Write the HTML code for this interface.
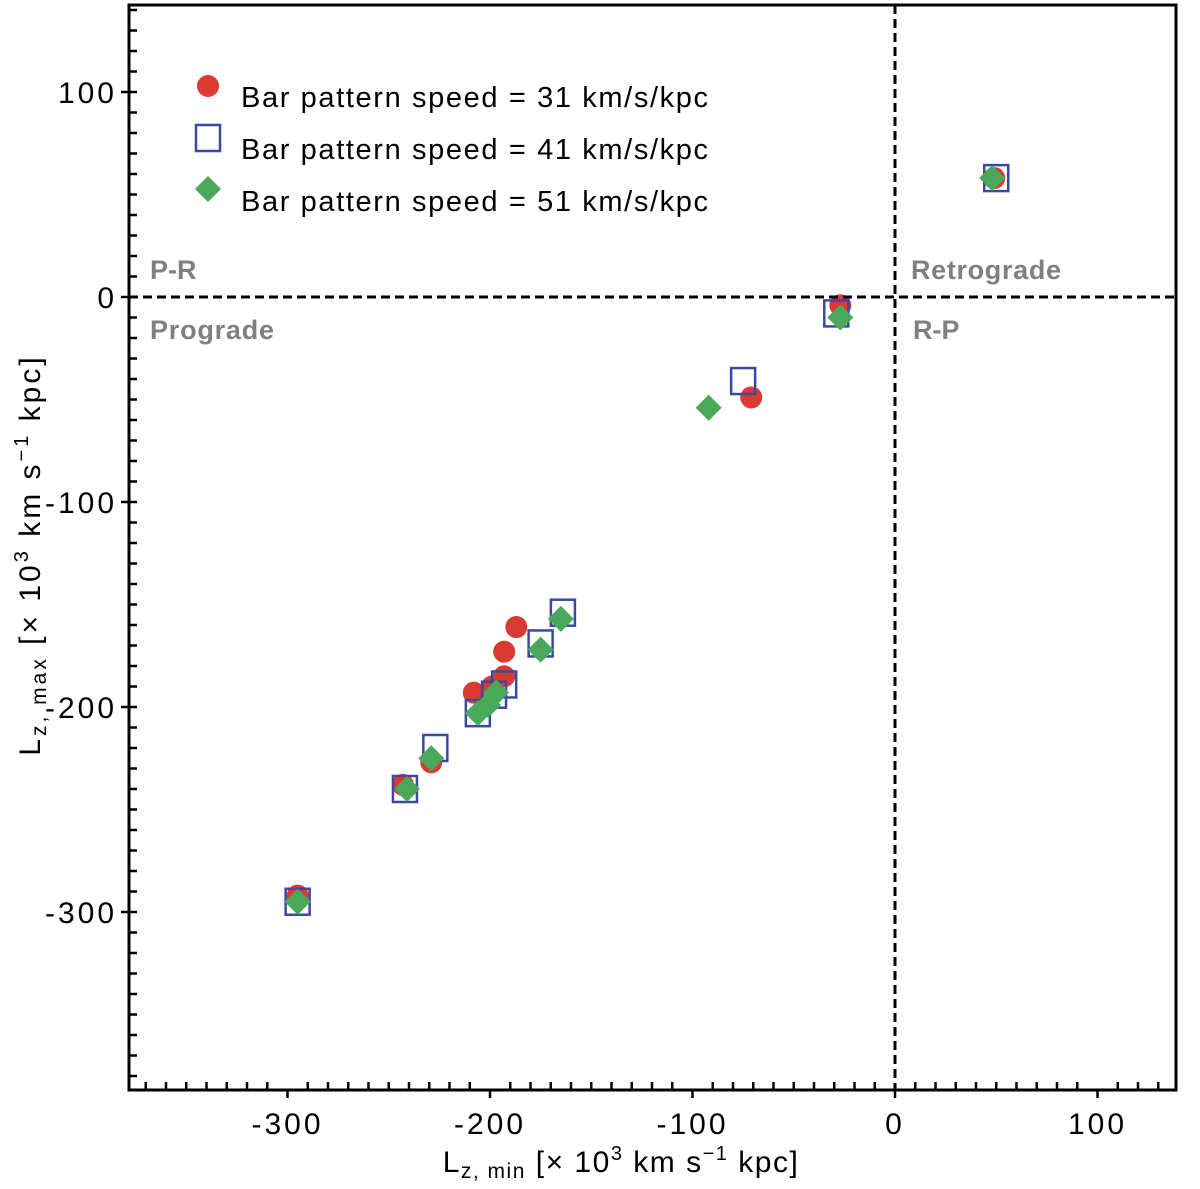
<!DOCTYPE html>
<html><head><meta charset="utf-8"><style>
html,body{margin:0;padding:0;background:#fff;}
svg{display:block;font-family:"Liberation Sans",sans-serif;}
</style></head><body>
<svg id="chart" width="1200" height="1189" viewBox="0 0 1200 1189" xmlns="http://www.w3.org/2000/svg">
<g id="ticks"></g>
<g id="marks"></g>
<line x1="895" y1="5" x2="895" y2="1090" stroke="#000" stroke-width="3" stroke-dasharray="9,5"/>
<line x1="129" y1="297" x2="1176" y2="297" stroke="#000" stroke-width="3" stroke-dasharray="9,5"/>
<rect x="129" y="5" width="1047" height="1085" fill="none" stroke="#000" stroke-width="3"/>
<g font-weight="bold" font-size="27" fill="#808080">
<text x="150" y="279">P-R</text>
<text x="150" y="339" textLength="124">Prograde</text>
<text x="911" y="279" textLength="150">Retrograde</text>
<text x="913" y="339">R-P</text>
</g>
<g font-size="29" fill="#000">
<circle cx="208" cy="86" r="11" fill="#d93a32"/>
<text x="241" y="107" textLength="467">Bar pattern speed = 31 km/s/kpc</text>
<rect x="196" y="125" width="24" height="26" fill="none" stroke="#3b4aa0" stroke-width="2.5"/>
<text x="241" y="159" textLength="467">Bar pattern speed = 41 km/s/kpc</text>
<polygon points="208,176 221,189 208,202 195,189" fill="#4aa85a"/>
<text x="241" y="211" textLength="467">Bar pattern speed = 51 km/s/kpc</text>
</g>
<text x="621" y="1172" font-size="30" letter-spacing="1.5" text-anchor="middle">L<tspan font-size="21" dy="6">z, min</tspan><tspan dy="-6"> [× 10</tspan><tspan font-size="20" dy="-12">3</tspan><tspan dy="12"> km s</tspan><tspan font-size="20" dy="-12">−1</tspan><tspan dy="12"> kpc]</tspan></text>
<text transform="translate(40,555) rotate(-90)" font-size="30" letter-spacing="3" text-anchor="middle">L<tspan font-size="21" dy="6">z, max</tspan><tspan dy="-6"> [× 10</tspan><tspan font-size="20" dy="-12">3</tspan><tspan dy="12"> km s</tspan><tspan font-size="20" dy="-12">−1</tspan><tspan dy="12"> kpc]</tspan></text>
</svg>
<script>
const xTicks = [-300, -200, -100, 0, 100];
const yTicks = [100, 0, -100, -200, -300];
const s31x = [-187, -193, -193, -208, -199, -243, -229, -295, -71, -27, 49];
const s31y = [-161, -173, -185, -193, -190, -238, -227, -292, -49, -4, 58];
const s41x = [-164, -175, -193, -198, -206, -227, -242, -295, -75, -29, 50];
const s41y = [-154, -169, -189, -194, -203, -220, -240, -295, -41, -8, 58];
const s51x = [-165, -175, -197, -201, -206, -229, -241, -295, -92, -27, 48];
const s51y = [-157, -172, -193, -199, -203, -225, -240, -295, -54, -10, 58];

const NS = 'http://www.w3.org/2000/svg';
const xs = v => 895 + v * 2.025;
const ys = v => 297 - v * 2.05;
const ticks = document.getElementById('ticks');
const marks = document.getElementById('marks');
function mk(tag, attrs, parent) {
  const e = document.createElementNS(NS, tag);
  for (const k in attrs) e.setAttribute(k, attrs[k]);
  parent.appendChild(e);
  return e;
}
for (let v = -370; v <= 130; v += 10) {
  const x = xs(v);
  if (x < 131 || x > 1174) continue;
  const major = v % 100 === 0;
  const t = mk('line', {x1: x, x2: x, y1: 1090, y2: major ? 1098 : 1082, stroke: '#000', 'stroke-width': 2.5}, ticks);
  
  
}
for (let v = 140; v >= -380; v -= 10) {
  const y = ys(v);
  if (y < 7 || y > 1088) continue;
  const major = v % 100 === 0;
  const t = mk('line', {x1: major ? 121 : 129, x2: 137, y1: y, y2: y, stroke: '#000', 'stroke-width': 2.5}, ticks);
  
  
}
xTicks.forEach(v => {
  const t = mk('text', {x: xs(v), y: 1134, 'font-size': 30, 'letter-spacing': 3, 'text-anchor': 'middle'}, ticks);
  t.textContent = v;
  
  
});
yTicks.forEach(v => {
  const t = mk('text', {x: 117, y: ys(v) + 11, 'font-size': 30, 'letter-spacing': 3, 'text-anchor': 'end'}, ticks);
  t.textContent = v;
  
  
});
s31x.forEach((v, i) => {
  const c = mk('circle', {cx: xs(v), cy: ys(s31y[i]), r: 11, fill: '#d93a32'}, marks);
  
  
});
s41x.forEach((v, i) => {
  const cx = xs(v), cy = ys(s41y[i]);
  const r = mk('rect', {x: cx - 12, y: cy - 13, width: 24, height: 26, fill: 'none', stroke: '#3b4aa0', 'stroke-width': 2.5}, marks);
  
  
});
s51x.forEach((v, i) => {
  const cx = xs(v), cy = ys(s51y[i]);
  const p = mk('polygon', {points: `${cx},${cy-13} ${cx+13},${cy} ${cx},${cy+13} ${cx-13},${cy}`, fill: '#4aa85a'}, marks);
  
  
});
</script>
</body></html>
